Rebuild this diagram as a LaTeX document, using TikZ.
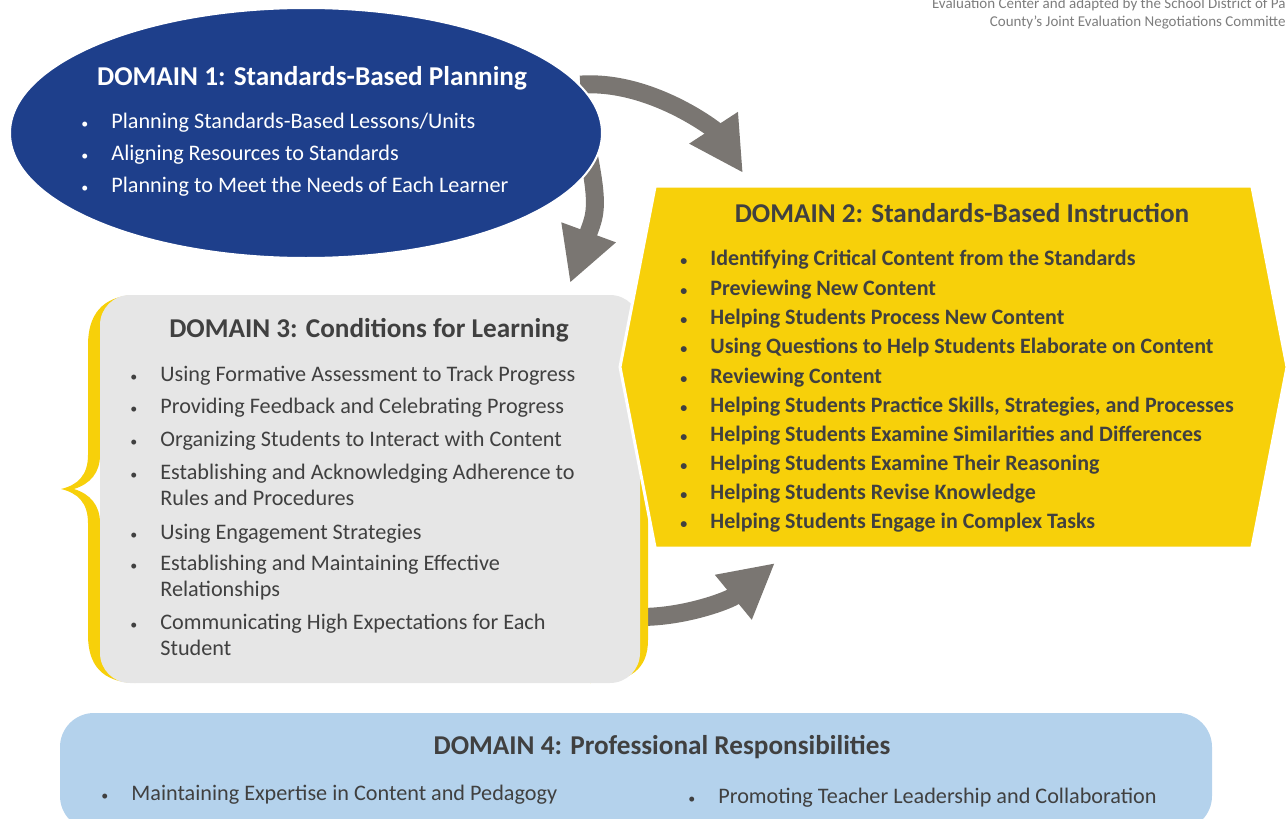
\documentclass[tikz,border=0pt]{standalone}
\usepackage{fontspec}
\setmainfont{Carlito}
\usetikzlibrary{shapes.geometric,shapes.symbols,arrows.meta,backgrounds}

\definecolor{domblue}{RGB}{30,63,139}
\definecolor{domyellow}{RGB}{247,208,10}
\definecolor{domgray}{RGB}{230,230,230}
\definecolor{domsky}{RGB}{180,210,236}
\definecolor{arrowgray}{RGB}{122,118,114}
\definecolor{textgray}{RGB}{64,64,64}
\definecolor{notegray}{RGB}{125,125,125}

\newcommand{\bul}{\makebox[15pt][l]{\fontsize{7}{7}\selectfont\textbullet}}

\tikzset{
  domtitle/.style={font=\bfseries\fontsize{13.6}{15}\selectfont, text=textgray, inner sep=0pt, anchor=base},
  domitem/.style={font=\fontsize{11.1}{13}\selectfont, text=textgray, inner sep=0pt, anchor=base west, align=left},
  boldi/.style={domitem, font=\bfseries\fontsize{11}{13}\selectfont},
  note/.style={font=\fontsize{7.5}{8.5}\selectfont, text=notegray, inner sep=0pt, anchor=base east},
  bigarrow/.style={line width=9pt, draw=arrowgray, -{Triangle[length=27pt,width=27pt]}},
}

\begin{document}
\begin{tikzpicture}[x=0.5pt,y=-0.5pt]
\useasboundingbox (0,0) rectangle (1286,819);
\clip (0,0) rectangle (1286,819);

% source note, cut at the right edge
\node[note] (note1) at (1286,9) {Evaluation Center and adapted by the School District of Pa};
\node[note] (note2) at (1286,26) {County's Joint Evaluation Negotiations Committe};

% domain 1
\node[ellipse, fill=domblue, draw=white, line width=1pt, minimum width=296pt, minimum height=125pt, inner sep=0pt] (d1) at (306,133) {};
\node[domtitle, text=white] (t1) at (312,85) {DOMAIN 1: Standards-Based Planning};
\node[domitem, text=white] (i11) at (81,128) {\bul Planning Standards-Based Lessons/Units};
\node[domitem, text=white] (i12) at (81,160) {\bul Aligning Resources to Standards};
\node[domitem, text=white] (i13) at (81,192) {\bul Planning to Meet the Needs of Each Learner};

% domain 3 with its yellow brackets
\fill[domyellow] (135,295) .. controls (102,296) and (88,315) .. (88,345) -- (88,455)
  .. controls (88,475) and (78,485) .. (61,489) .. controls (78,493) and (88,503) .. (88,523)
  -- (88,635) .. controls (88,665) and (102,682) .. (135,683)
  .. controls (112,680) and (100,665) .. (100,635) -- (100,523)
  .. controls (100,505) and (90,494) .. (74,489) .. controls (90,484) and (100,473) .. (100,455)
  -- (100,345) .. controls (100,315) and (112,298) .. (135,295) -- cycle;
\fill[domyellow] (590,295) .. controls (630,296) and (648,312) .. (648,340) -- (648,640)
  .. controls (648,668) and (632,683) .. (590,683) -- cycle;
\node[rectangle, rounded corners=15pt, fill=domgray, minimum width=270pt, minimum height=194pt, inner sep=0pt] (d3) at (370,489) {};
\node[domtitle] (t3) at (369,337) {DOMAIN 3: Conditions for Learning};
\node[domitem] (i31) at (130,381) {\bul Using Formative Assessment to Track Progress};
\node[domitem] (i32) at (130,413) {\bul Providing Feedback and Celebrating Progress};
\node[domitem] (i33) at (130,446) {\bul Organizing Students to Interact with Content};
\node[domitem] (i34) at (130,505) {\bul Establishing and Acknowledging Adherence to\\\hspace*{15pt}Rules and Procedures};
\node[domitem] (i35) at (130,539) {\bul Using Engagement Strategies};
\node[domitem] (i36) at (130,596) {\bul Establishing and Maintaining Effective\\\hspace*{15pt}Relationships};
\node[domitem] (i37) at (130,655) {\bul Communicating High Expectations for Each\\\hspace*{15pt}Student};

% domain 2
\node[signal, signal to=east and west, signal pointer angle=158, fill=domyellow, draw=white, line width=1.5pt, minimum width=333.5pt, minimum height=181pt, inner sep=0pt] (d2) at (953.5,367) {};
\node[domtitle] (t2) at (962,222) {DOMAIN 2: Standards-Based Instruction};
\node[boldi] (i21) at (680,265) {\bul Identifying Critical Content from the Standards};
\node[boldi] (i22) at (680,295) {\bul Previewing New Content};
\node[boldi] (i23) at (680,324) {\bul Helping Students Process New Content};
\node[boldi] (i24) at (680,353) {\bul Using Questions to Help Students Elaborate on Content};
\node[boldi] (i25) at (680,383) {\bul Reviewing Content};
\node[boldi] (i26) at (680,412) {\bul Helping Students Practice Skills, Strategies, and Processes};
\node[boldi] (i27) at (680,441) {\bul Helping Students Examine Similarities and Differences};
\node[boldi] (i28) at (680,470) {\bul Helping Students Examine Their Reasoning};
\node[boldi] (i29) at (680,499) {\bul Helping Students Revise Knowledge};
\node[boldi] (i210) at (680,528) {\bul Helping Students Engage in Complex Tasks};

% domain 4
\node[rectangle, rounded corners=17pt, fill=domsky, minimum width=576pt, minimum height=58.5pt, inner sep=0pt] (d4) at (636,771.5) {};
\node[domtitle] (t4) at (662,754) {DOMAIN 4: Professional Responsibilities};
\node[domitem] (i41) at (101,800) {\bul Maintaining Expertise in Content and Pedagogy};
\node[domitem] (i42) at (688,803) {\bul Promoting Teacher Leadership and Collaboration};

% arrows between the domains
\coordinate (a1) at (743,173);
\coordinate (a2) at (570,283);
\coordinate (a3) at (775,563);
\begin{scope}[on background layer]
\draw[bigarrow] (d1.10) .. controls +(70,-5) and +(-28,-43) .. (a1);
\draw[bigarrow, shorten <=-8pt] (d1.-7) .. controls +(8,40) and +(25,-68) .. (a2);
\draw[bigarrow] ([yshift=-64pt]d3.east) .. controls +(45,0) and +(-45,37) .. (a3);
\end{scope}
\end{tikzpicture}
\end{document}
